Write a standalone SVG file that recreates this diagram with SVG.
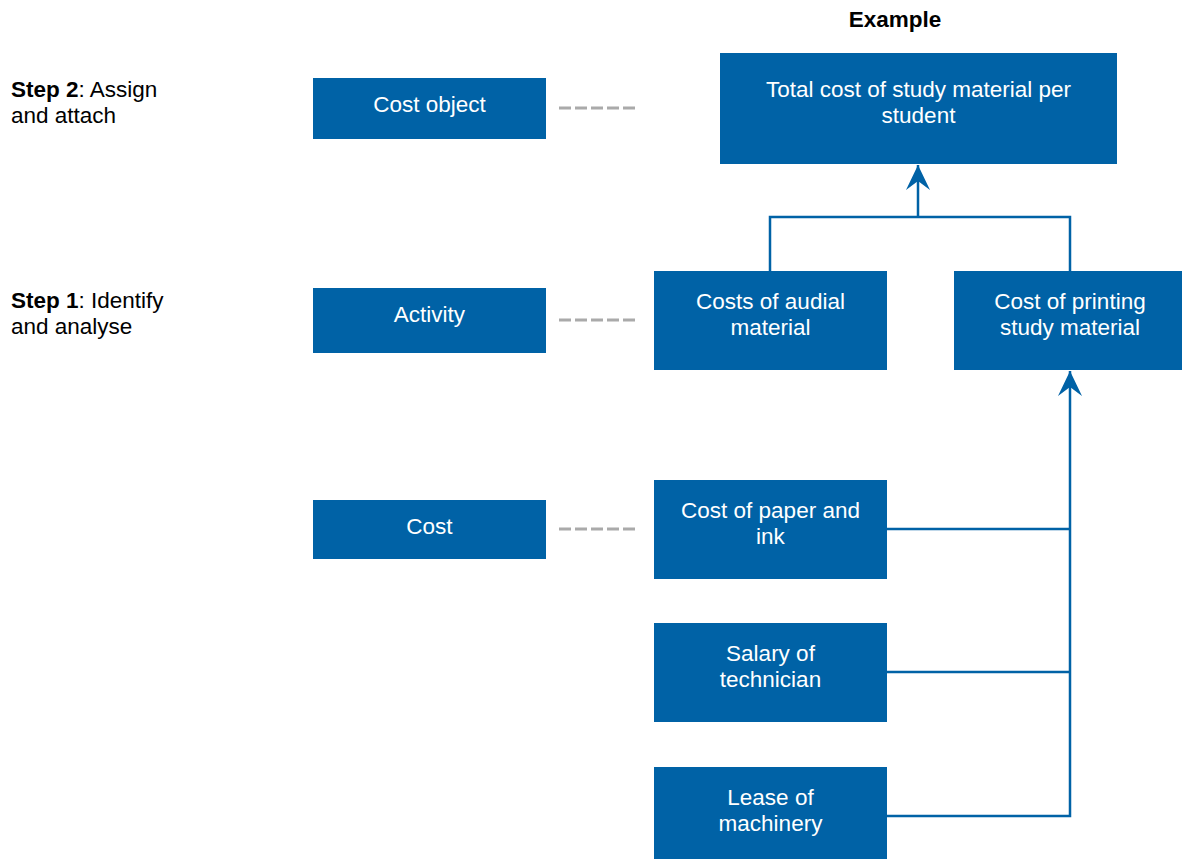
<svg xmlns="http://www.w3.org/2000/svg" width="1182" height="859" viewBox="0 0 1182 859">
<style>
.box{fill:#0062a6}
.bt{fill:#ffffff;font-family:"Liberation Sans",Arial,sans-serif;font-size:22.5px;text-anchor:middle}
.lt{fill:#000000;font-family:"Liberation Sans",Arial,sans-serif;font-size:22.5px}
.b{font-weight:bold}
.dash{stroke:#aaaaaa;stroke-width:3;stroke-dasharray:12 4;fill:none}
.con{stroke:#0062a6;stroke-width:2.5;fill:none}
</style>
<defs>
<marker id="arr" markerUnits="userSpaceOnUse" viewBox="-27 -14 28 28" markerWidth="28" markerHeight="28" refX="0" refY="0" orient="auto">
<path d="M0,0 L-25,-12 L-16,0 L-25,12 Z" fill="#0062a6"/>
</marker>
</defs>
<rect width="1182" height="859" fill="#ffffff"/>
<g id="labels">
<text class="lt b" x="895" y="27" text-anchor="middle">Example</text>
<text class="lt" x="11" y="97"><tspan class="b">Step 2</tspan>: Assign</text>
<text class="lt" x="11" y="123">and attach</text>
<text class="lt" x="11" y="308"><tspan class="b">Step 1</tspan>: Identify</text>
<text class="lt" x="11" y="334">and analyse</text>
</g>
<g id="connectors">
<line class="dash" x1="559" y1="108" x2="635" y2="108"/>
<line class="dash" x1="559" y1="320" x2="635" y2="320"/>
<line class="dash" x1="559" y1="529" x2="635" y2="529"/>
<path class="con" d="M770,271 V217 H1070 V271"/>
<path class="con" d="M918,217 V165" marker-end="url(#arr)"/>
<path class="con" d="M887,816 H1070 V371" marker-end="url(#arr)"/>
<path class="con" d="M887,529 H1070"/>
<path class="con" d="M887,672 H1070"/>
</g>
<g id="cost-object">
<rect class="box" x="313" y="78" width="233" height="61"/>
<text class="bt" x="429.5" y="112">Cost object</text>
</g>
<g id="activity">
<rect class="box" x="313" y="288" width="233" height="65"/>
<text class="bt" x="429.5" y="322">Activity</text>
</g>
<g id="cost">
<rect class="box" x="313" y="500" width="233" height="59"/>
<text class="bt" x="429.5" y="534">Cost</text>
</g>
<g id="total-cost">
<rect class="box" x="720" y="53" width="397" height="111"/>
<text class="bt" x="918.5" y="97">Total cost of study material per</text>
<text class="bt" x="918.5" y="123">student</text>
</g>
<g id="audial">
<rect class="box" x="654" y="271" width="233" height="99"/>
<text class="bt" x="770.5" y="309">Costs of audial</text>
<text class="bt" x="770.5" y="335">material</text>
</g>
<g id="printing">
<rect class="box" x="954" y="271" width="228" height="99"/>
<text class="bt" x="1070" y="309">Cost of printing</text>
<text class="bt" x="1070" y="335">study material</text>
</g>
<g id="paper">
<rect class="box" x="654" y="480" width="233" height="99"/>
<text class="bt" x="770.5" y="518">Cost of paper and</text>
<text class="bt" x="770.5" y="544">ink</text>
</g>
<g id="salary">
<rect class="box" x="654" y="623" width="233" height="99"/>
<text class="bt" x="770.5" y="661">Salary of</text>
<text class="bt" x="770.5" y="687">technician</text>
</g>
<g id="lease">
<rect class="box" x="654" y="767" width="233" height="92"/>
<text class="bt" x="770.5" y="805">Lease of</text>
<text class="bt" x="770.5" y="831">machinery</text>
</g>
</svg>
